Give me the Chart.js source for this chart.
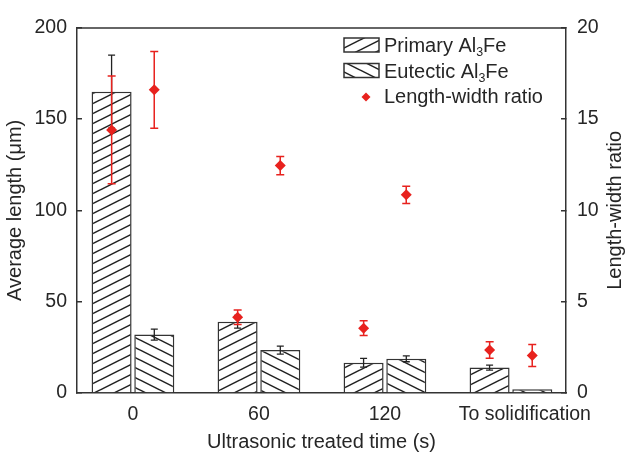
<!DOCTYPE html>
<html>
<head>
<meta charset="utf-8">
<script src="https://cdn.jsdelivr.net/npm/chart.js@4.4.0/dist/chart.umd.min.js"></script>
<style>
  html, body { margin: 0; padding: 0; background: #fff; }
  #wrap { width: 625px; height: 452px; }
</style>
</head>
<body>
<div id="wrap"><canvas id="chart"></canvas></div>
<script>
// --- DATA ---
const categories = ['0', '60', '120', 'To solidification'];
const primaryLength = [165, 39, 16.6, 13.9];
const primaryLengthErr = [20, 3.5, 2.4, 1.4];
const eutecticLength = [32, 23.5, 18.7, 2];
const eutecticLengthErr = [3, 2.2, 1.6, 0];
const primaryRatio = [14.4, 4.15, 3.55, 2.35];
const primaryRatioErr = [2.95, 0.4, 0.4, 0.45];
const eutecticRatio = [16.6, 12.45, 10.85, 2.05];
const eutecticRatioErr = [2.1, 0.5, 0.47, 0.6];
const seriesLabels = ['Primary Al₃Fe', 'Eutectic Al₃Fe', 'Length-width ratio'];
const lengthTicks = [0, 50, 100, 150, 200];
const ratioTicks = [0, 5, 10, 15, 20];

// --- STYLE ---
const INK = '#333';
const TEXT = '#262626';
const RED = '#e8221e';
const FONT = "'Liberation Sans', Arial, Helvetica, sans-serif";
const X_SHIFT = 0.169;      // ratio markers sit over their bar (half a bar pitch)
const LAST_TICK_SHIFT = 0.11; // the long last label is set a little to the right

Chart.defaults.font.family = FONT;
Chart.defaults.color = TEXT;

const canvas = document.getElementById('chart');

// diagonal hatch, dir > 0 : '/', dir < 0 : '\'
function hatch(dir) {
  const c = document.createElement('canvas');
  c.width = 20; c.height = 10;
  const g = c.getContext('2d');
  g.fillStyle = '#fff';
  g.fillRect(0, 0, 20, 10);
  g.strokeStyle = '#222';
  g.lineWidth = 1.5;
  for (let k = -1; k <= 1; k++) {
    g.beginPath();
    if (dir > 0) { g.moveTo(-20, 20 + k * 10); g.lineTo(40, -10 + k * 10); }
    else { g.moveTo(-20, -10 + k * 10); g.lineTo(40, 20 + k * 10); }
    g.stroke();
  }
  return canvas.getContext('2d').createPattern(c, 'repeat');
}

const toPoints = (vals, shift) => vals.map((v, i) => ({ x: i + shift, y: v }));

const barStyle = {
  type: 'bar',
  yAxisID: 'y',
  borderColor: INK,
  borderWidth: 1.5,
  categoryPercentage: 0.678,
  barPercentage: 0.937
};
const dotStyle = {
  type: 'scatter',
  yAxisID: 'y2',
  pointStyle: 'rectRot',
  pointRadius: 5.5,
  pointHoverRadius: 5.5,
  backgroundColor: RED,
  borderColor: RED,
  borderWidth: 0,
  order: 0
};

const datasets = [
  { ...barStyle, label: seriesLabels[0], data: toPoints(primaryLength, 0), err: primaryLengthErr,
    backgroundColor: hatch(1), order: 1 },
  { ...barStyle, label: seriesLabels[1], data: toPoints(eutecticLength, 0), err: eutecticLengthErr,
    backgroundColor: hatch(-1), order: 2 },
  { ...dotStyle, label: seriesLabels[2], data: toPoints(primaryRatio, -X_SHIFT), err: primaryRatioErr },
  { ...dotStyle, label: seriesLabels[2], data: toPoints(eutecticRatio, X_SHIFT), err: eutecticRatioErr }
];

// --- ERROR BARS ---
function drawErrors(chart, index) {
  const ds = chart.data.datasets[index];
  const meta = chart.getDatasetMeta(index);
  const yScale = chart.scales[ds.yAxisID];
  const isBar = ds.type === 'bar';
  const ctx = chart.ctx;
  const cap = isBar ? 3.5 : 4;
  ctx.save();
  ctx.strokeStyle = isBar ? '#222' : RED;
  ctx.lineWidth = isBar ? 1.3 : 1.5;
  meta.data.forEach((el, i) => {
    const e = ds.err[i];
    if (!e) return;
    const v = ds.data[i].y;
    const yt = yScale.getPixelForValue(v + e);
    const yb = yScale.getPixelForValue(v - e);
    ctx.beginPath();
    ctx.moveTo(el.x, yt); ctx.lineTo(el.x, yb);
    ctx.moveTo(el.x - cap, yt); ctx.lineTo(el.x + cap, yt);
    ctx.moveTo(el.x - cap, yb); ctx.lineTo(el.x + cap, yb);
    ctx.stroke();
  });
  ctx.restore();
}

// text with unicode subscript digits drawn as small lowered digits
function drawRichText(ctx, text, x, y, size) {
  let cx = x;
  for (const ch of text) {
    const code = ch.charCodeAt(0);
    if (code >= 0x2080 && code <= 0x2089) {
      ctx.font = `${size * 0.62}px ${FONT}`;
      const d = String(code - 0x2080);
      ctx.fillText(d, cx, y + size * 0.2);
      cx += ctx.measureText(d).width;
    } else {
      ctx.font = `${size}px ${FONT}`;
      ctx.fillText(ch, cx, y);
      cx += ctx.measureText(ch).width;
    }
  }
}

function drawLegend(chart) {
  const ctx = chart.ctx;
  const ds = chart.data.datasets;
  const boxX = 344, boxW = 35, boxH = 14, textX = 384, size = 20;
  const rows = [45, 70.5, 96];
  ctx.save();
  ctx.fillStyle = TEXT;
  ctx.textBaseline = 'alphabetic';
  ctx.textAlign = 'left';
  [0, 1].forEach(k => {
    const y = rows[k] - boxH / 2;
    ctx.fillStyle = ds[k].backgroundColor;
    ctx.fillRect(boxX, y, boxW, boxH);
    ctx.strokeStyle = INK;
    ctx.lineWidth = 1.5;
    ctx.strokeRect(boxX, y, boxW, boxH);
    ctx.fillStyle = TEXT;
    drawRichText(ctx, ds[k].label, textX, rows[k] + 7, size);
  });
  // diamond marker
  const cx = 366, cy = rows[2] + 1, r = 4.5;
  ctx.fillStyle = RED;
  ctx.beginPath();
  ctx.moveTo(cx, cy - r); ctx.lineTo(cx + r, cy); ctx.lineTo(cx, cy + r); ctx.lineTo(cx - r, cy);
  ctx.closePath();
  ctx.fill();
  ctx.fillStyle = TEXT;
  drawRichText(ctx, ds[2].label, textX, rows[2] + 7, size);
  ctx.restore();
}

const decorations = {
  id: 'decorations',
  beforeDatasetsDraw(chart) {
    const { ctx, chartArea: a } = chart;
    ctx.save();
    ctx.strokeStyle = INK;
    ctx.lineWidth = 1.5;
    ctx.beginPath();
    ctx.moveTo(a.left, a.top + 0.25);
    ctx.lineTo(a.right, a.top + 0.25);
    ctx.stroke();
    ctx.restore();
  },
  beforeDatasetDraw(chart, args) {
    if (chart.data.datasets[args.index].type !== 'bar') drawErrors(chart, args.index);
  },
  afterDatasetDraw(chart, args) {
    if (chart.data.datasets[args.index].type === 'bar') drawErrors(chart, args.index);
  },
  afterDraw(chart) {
    const { ctx, chartArea: a } = chart;
    // right axis title reads bottom-to-top like the left one
    ctx.save();
    ctx.fillStyle = TEXT;
    ctx.font = `20px ${FONT}`;
    ctx.textAlign = 'center';
    ctx.textBaseline = 'middle';
    ctx.translate(615, (a.top + a.bottom) / 2);
    ctx.rotate(-Math.PI / 2);
    ctx.fillText(seriesLabels[2], 0, 0);
    ctx.restore();
    drawLegend(chart);
  }
};

const yAxisCommon = {
  grid: { drawOnChartArea: false, drawTicks: true, tickLength: -5, color: INK, lineWidth: 1.5 },
  border: { display: true, color: INK, width: 1.5 }
};

new Chart(canvas, {
  type: 'bar',
  data: { datasets },
  plugins: [decorations],
  options: {
    responsive: true,
    maintainAspectRatio: false,
    animation: false,
    layout: { padding: { top: 19, left: 0, right: 0, bottom: 0 } },
    plugins: { legend: { display: false }, tooltip: { enabled: false } },
    scales: {
      x: {
        type: 'linear',
        position: 'bottom',
        offset: false,
        min: -0.444,
        max: 3.437,
        grid: { display: false, drawTicks: false, offset: false },
        border: { display: true, color: INK, width: 1.5 },
        afterBuildTicks: s => {
          s.ticks = categories.map((_, i) => ({ value: i === categories.length - 1 ? i + LAST_TICK_SHIFT : i }));
        },
        ticks: {
          autoSkip: false,
          maxRotation: 0,
          padding: 12,
          font: { size: 19.5, lineHeight: 1 },
          callback: v => categories[Math.round(v)]
        },
        title: {
          display: true,
          text: 'Ultrasonic treated time (s)',
          font: { size: 20, lineHeight: 1 },
          padding: { top: 0, bottom: 0 }
        },
        afterFit: s => { s.height = 59; }
      },
      y: {
        ...yAxisCommon,
        position: 'left',
        min: 0,
        max: 200,
        afterBuildTicks: s => { s.ticks = lengthTicks.map(v => ({ value: v })); },
        ticks: { padding: 15, font: { size: 19.5 } },
        title: {
          display: true,
          text: 'Average length (μm)',
          font: { size: 20 },
          padding: { top: 3, bottom: 0 }
        },
        afterFit: s => { s.width = 77; }
      },
      y2: {
        ...yAxisCommon,
        position: 'right',
        min: 0,
        max: 20,
        afterBuildTicks: s => { s.ticks = ratioTicks.map(v => ({ value: v })); },
        ticks: { padding: 16, font: { size: 19.5 } },
        afterFit: s => { s.width = 59; }
      }
    }
  }
});
</script>
</body>
</html>
